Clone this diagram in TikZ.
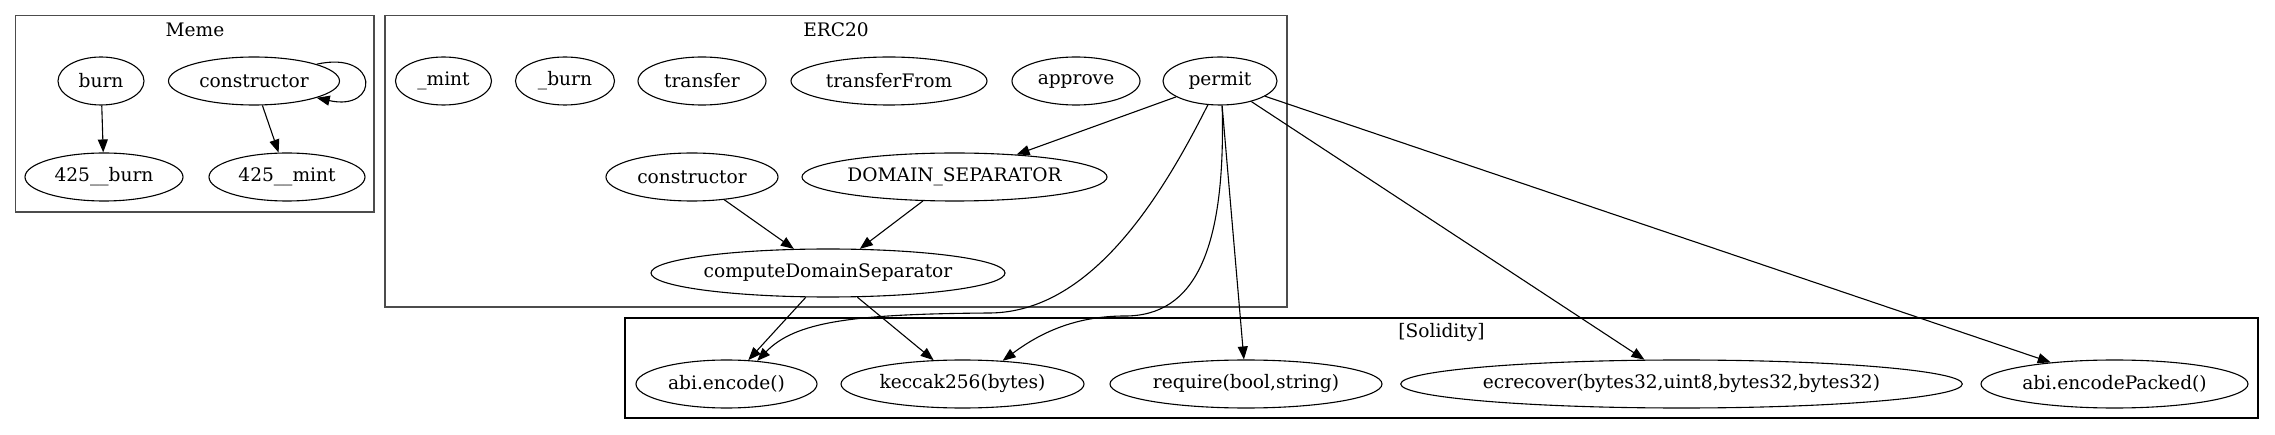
\documentclass[tikz,border=0pt]{standalone}
\usepackage{fontspec}
\setmainfont{DejaVu Serif}
\usetikzlibrary{shapes.geometric,arrows.meta}
\begin{document}
\begin{tikzpicture}[x=1pt,y=-1pt,
  fn/.style={draw,ellipse,line width=1.1pt,inner sep=0pt,minimum height=48pt,font=\fontsize{18.6}{22}\selectfont},
  edge/.style={line width=1.1pt,-{Triangle[length=13pt,width=10pt]}},
  clus/.style={draw=black!70,line width=1.5pt},
  solclus/.style={draw=black,line width=1.2pt},
  lab/.style={font=\fontsize{18.6}{22}\selectfont,inner sep=0pt}]
\useasboundingbox (0,0) rectangle (2275,435);
% clusters
\draw[clus] (15.7,15.7) rectangle (374,212);
\node[lab] (memelab) at (195,29.5) {Meme};
\draw[clus] (385,15.7) rectangle (1287,307);
\node[lab] (erclab) at (836,29.5) {ERC20};
\draw[solclus] (625,318) rectangle (2258,418);
\node[lab] (sollab) at (1441.5,333) {[Solidity]};
% Meme
\node[fn,minimum width=86pt] (mburn) at (101,81) {burn};
\node[fn,minimum width=171pt] (mctor) at (254,81) {constructor};
\node[fn,minimum width=158pt] (m425burn) at (104,177) {425\_\_burn};
\node[fn,minimum width=156pt] (m425mint) at (287,177) {425\_\_mint};
% ERC20
\node[fn,minimum width=96pt] (emint) at (443.5,81) {\_mint};
\node[fn,minimum width=99pt] (eburn) at (565,81) {\_burn};
\node[fn,minimum width=128pt] (etransfer) at (702,81) {transfer};
\node[fn,minimum width=196pt] (etransferfrom) at (889,81) {transferFrom};
\node[fn,minimum width=128pt] (eapprove) at (1076,81) {approve};
\node[fn,minimum width=114pt] (epermit) at (1220,81) {permit};
\node[fn,minimum width=172pt] (ector) at (692,177) {constructor};
\node[fn,minimum width=305pt] (edomain) at (954.5,177) {DOMAIN\_SEPARATOR};
\node[fn,minimum width=354pt] (ecds) at (828,273) {computeDomainSeparator};
% Solidity
\node[fn,minimum width=181pt] (sabienc) at (726.5,384) {abi.encode()};
\node[fn,minimum width=243pt] (skeccak) at (962.5,384) {keccak256(bytes)};
\node[fn,minimum width=272pt] (srequire) at (1246,384) {require(bool,string)};
\node[fn,minimum width=553pt] (secrecover) at (1681.5,384) {ecrecover(bytes32,uint8,bytes32,bytes32)};
\node[fn,minimum width=267pt] (sabipacked) at (2114.5,384) {abi.encodePacked()};
% edges
\draw[edge] (mburn) -- (m425burn);
\draw[edge] (mctor) -- (m425mint);
\draw[edge] (mctor.15) .. controls (380,50) and (380,112) .. (mctor.-15);
\draw[edge] (ector) -- (ecds);
\draw[edge] (edomain) -- (ecds);
\draw[edge] (epermit) -- (edomain);
\draw[edge] (ecds) -- (sabienc);
\draw[edge] (ecds) -- (skeccak);
\draw[edge] (epermit.-117) .. controls (1160,200) and (1090,312) .. (990,313)
  .. controls (850,314) and (795,322) .. (sabienc.37);
\draw[edge] (epermit.-85) .. controls (1226,250) and (1195,316) .. (1125,316)
  .. controls (1075,316) and (1040,333) .. (skeccak.30);
\draw[edge] (epermit) -- (srequire);
\draw[edge] (epermit) -- (secrecover);
\draw[edge] (epermit) -- (sabipacked);
\end{tikzpicture}
\end{document}
